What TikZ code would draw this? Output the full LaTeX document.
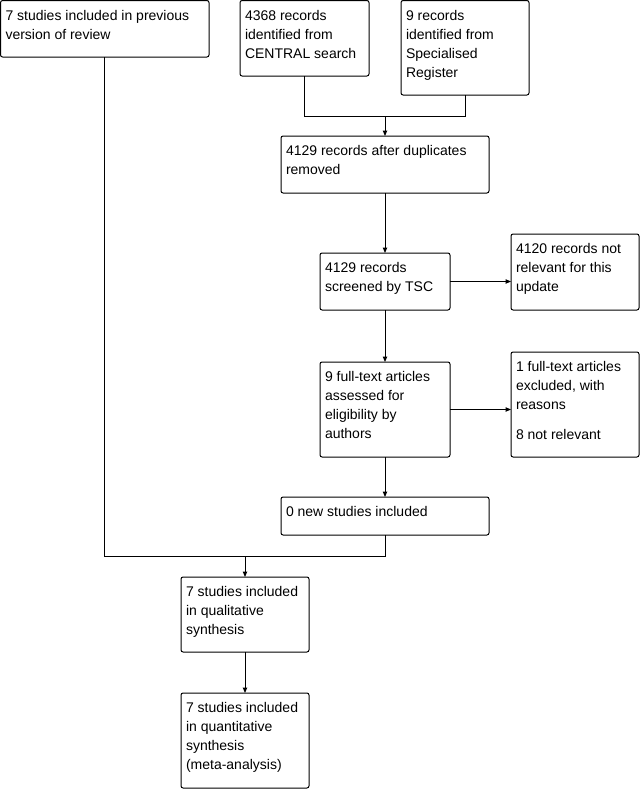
\documentclass[tikz,border=0pt]{standalone}
\usepackage{fontspec}
\setmainfont{Liberation Sans}
\usetikzlibrary{arrows.meta}
\tikzset{
  box/.style={draw=black, line width=0.75pt, rounded corners=1.6pt, inner xsep=3.75pt, inner ysep=0pt, outer sep=0pt},
  conn/.style={draw=black, line width=0.75pt},
  arr/.style={conn, -{Triangle[length=4pt,width=3.2pt]}}
}
\newcommand\bx[6]{%
  \pgfmathsetlengthmacro\bxw{0.75pt*(#4-#2)}%
  \pgfmathsetlengthmacro\bxh{0.75pt*(#5-#3)}%
  \pgfmathsetlengthmacro\bxtw{0.75pt*(#4-#2)-7.5pt}%
  \node[box, minimum width=\bxw, minimum height=\bxh] (#1) at ({(#2+#4)/2},{(#3+#5)/2})
  {\parbox[b][\bxh][t]{\bxtw}{\vspace*{5pt}\raggedright\strut #6}};}
\begin{document}
\begin{tikzpicture}[x=0.75pt, y=-0.75pt, font=\fontsize{10.5}{14.25}\selectfont]
\useasboundingbox (0,0) rectangle (642,789);
\bx{A}{0.5}{0.5}{209}{57}{7 studies included in previous\\version of review}
\bx{B}{240}{0.5}{369}{76}{4368 records\\identified from\\CENTRAL search}
\bx{C}{401}{0.5}{529}{95}{9 records\\identified from\\Specialised\\Register}
\bx{D}{281}{136}{489}{193}{4129 records after duplicates\\removed}
\bx{E}{320}{253}{450}{310}{4129 records\\screened by TSC}
\bx{F}{511}{234}{639}{310}{4120 records not\\relevant for this\\update}
\bx{G}{320}{362}{450}{457}{9 full-text articles\\assessed for\\eligibility by\\authors}
\bx{H}{511}{352}{639}{457}{1 full-text articles\\excluded, with\\reasons\\[8.25pt]8 not relevant}
\bx{I}{281}{497}{489}{535}{0 new studies included}
\bx{J}{181}{577}{309}{652}{7 studies included\\in qualitative\\synthesis}
\bx{K}{181}{693}{309}{788}{7 studies included\\in quantitative\\synthesis\\(meta-analysis)}
\coordinate (m1) at (385,116);
\coordinate (m2) at (245,556);
\draw[conn] (B.south) |- (m1);
\draw[conn] (C.south) |- (m1);
\draw[arr] (m1) -- (D.north);
\draw[arr] (D.south) -- (E.north);
\draw[arr] (E.east) -- (E.east -| F.west);
\draw[arr] (E.south) -- (G.north);
\draw[arr] (G.east) -- (G.east -| H.west);
\draw[arr] (G.south) -- (G.south |- I.north);
\draw[conn] (A.south) |- (m2);
\draw[conn] (I.south) |- (m2);
\draw[arr] (m2) -- (J.north);
\draw[arr] (J.south) -- (K.north);
\end{tikzpicture}
\end{document}
